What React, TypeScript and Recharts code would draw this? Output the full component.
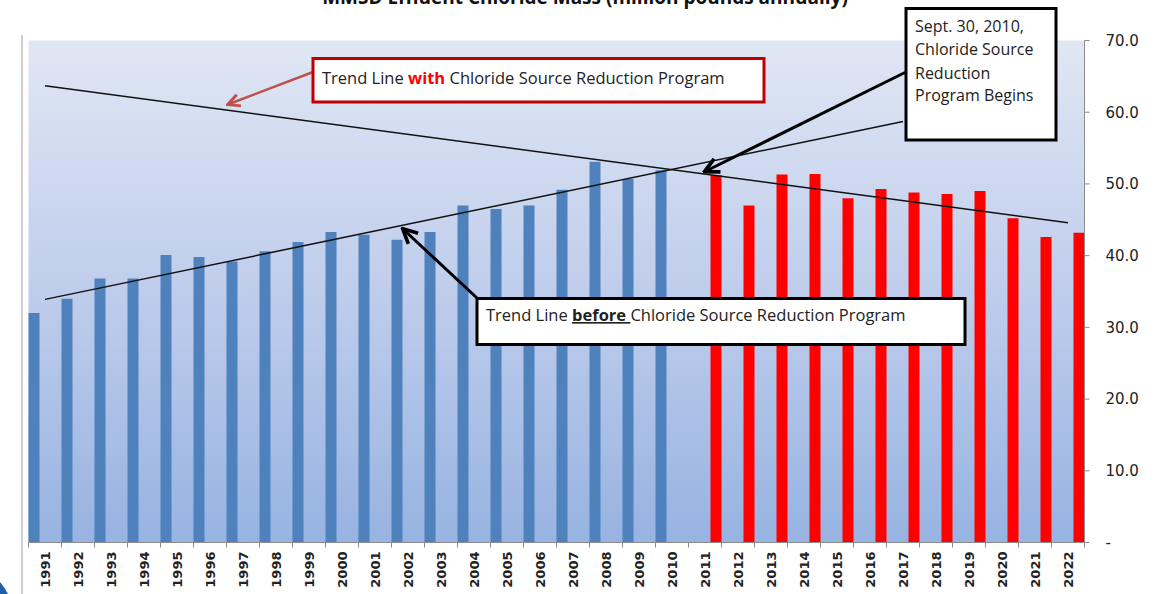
import { ComposedChart, Bar, Line, XAxis, YAxis, CartesianGrid } from 'recharts';

document.body.style.margin = '0';

// MMSD effluent chloride mass, million pounds per year
const years = [
  '1991', '1992', '1993', '1994', '1995', '1996', '1997', '1998', '1999', '2000',
  '2001', '2002', '2003', '2004', '2005', '2006', '2007', '2008', '2009', '2010',
  '2011', '2012', '2013', '2014', '2015', '2016', '2017', '2018', '2019', '2020',
  '2021', '2022',
];
const beforeProgram = [
  32.0, 34.0, 36.8, 36.8, 40.1, 39.8, 39.2, 40.6, 41.9, 43.3,
  42.9, 42.2, 43.3, 47.0, 46.5, 47.0, 49.2, 53.1, 50.7, 51.9,
];
const withProgram = [51.2, 47.0, 51.3, 51.4, 48.0, 49.3, 48.8, 48.6, 49.0, 45.2, 42.6, 43.2];

// trend line end points
const trendBeforeEnds: Record<string, number> = { '1991': 33.9, '2017': 58.7 };
const trendWithEnds: Record<string, number> = { '1991': 63.7, '2022': 44.6 };

const yTicks = [0, 10, 20, 30, 40, 50, 60, 70];

const data = years.map((year, i) => ({
  year,
  before: i < beforeProgram.length ? beforeProgram[i] : null,
  spacer: null,
  after: i >= beforeProgram.length ? withProgram[i - beforeProgram.length] : null,
  trendBefore: trendBeforeEnds[year] ?? null,
  trendWith: trendWithEnds[year] ?? null,
}));

const W = 1163;
const H = 594;
const PLOT_LEFT = 28.5;
const PLOT_RIGHT = 1084.5;
const SLOT = (PLOT_RIGHT - PLOT_LEFT) / years.length;

const YearTick = (props: any) => {
  const { x, y, payload } = props;
  const idx = years.indexOf(String(payload.value));
  const half = SLOT / 2;
  return (
    <g>
      <line x1={x - half} x2={x - half} y1={y} y2={y + 5} stroke="#8c8c8c" />
      {idx === years.length - 1 && (
        <line x1={x + half} x2={x + half} y1={y} y2={y + 5} stroke="#8c8c8c" />
      )}
      <text
        transform={`translate(${x + 4.5},${y + 9}) rotate(-90)`}
        textAnchor="end"
        fontFamily="DejaVu Sans"
        fontWeight="bold"
        fontSize={13}
        fill="#222"
      >
        {payload.value}
      </text>
    </g>
  );
};

const annoFont = "'Open Sans', sans-serif";

export default function App() {
  return (
    <div style={{ position: 'relative', width: W, height: H, overflow: 'hidden', background: '#fff' }}>
      <ComposedChart
        width={W}
        height={H}
        data={data}
        margin={{ top: 40.5, right: 8.5, left: PLOT_LEFT, bottom: 0 }}
        barCategoryGap={0}
        barGap={0}
      >
        <defs>
          <linearGradient id="plotBg" x1="0" y1="0" x2="0" y2="1">
            <stop offset="0%" stopColor="#e0e7f4" />
            <stop offset="50%" stopColor="#bfcdec" />
            <stop offset="100%" stopColor="#97b3e1" />
          </linearGradient>
        </defs>
        <CartesianGrid horizontal={false} vertical={false} fill="url(#plotBg)" stroke="none" />
        <XAxis
          dataKey="year"
          height={51.5}
          interval={0}
          tickLine={false}
          tickSize={0}
          tickMargin={0}
          axisLine={{ stroke: '#8c8c8c' }}
          tick={<YearTick />}
        />
        <YAxis
          orientation="right"
          width={70}
          domain={[0, 70]}
          ticks={yTicks}
          interval={0}
          tickSize={5}
          tickMargin={16}
          axisLine={{ stroke: '#8c8c8c' }}
          tickLine={{ stroke: '#8c8c8c' }}
          tickFormatter={(v: number) => (v === 0 ? '-' : v.toFixed(1))}
          tick={{ fill: '#222', fontSize: 15, fontFamily: 'DejaVu Sans' }}
        />
        <Bar dataKey="before" fill="#4f81bd" isAnimationActive={false} />
        <Bar dataKey="spacer" fill="none" isAnimationActive={false} />
        <Bar dataKey="after" fill="#ff0000" isAnimationActive={false} />
        <Line
          dataKey="trendBefore"
          stroke="#111"
          strokeWidth={1.5}
          dot={false}
          connectNulls
          isAnimationActive={false}
        />
        <Line
          dataKey="trendWith"
          stroke="#111"
          strokeWidth={1.5}
          dot={false}
          connectNulls
          isAnimationActive={false}
        />
      </ComposedChart>

      <svg
        width={W}
        height={H}
        style={{ position: 'absolute', left: 0, top: 0, pointerEvents: 'none' }}
      >
        <defs>
          <marker id="headRed" viewBox="0 0 10 10" refX="8" refY="5" markerWidth="6" markerHeight="6" orient="auto">
            <path d="M1,1 L9,5 L1,9" fill="none" stroke="#c0504d" strokeWidth="2" />
          </marker>
          <marker id="headBlack" viewBox="0 0 10 10" refX="8" refY="5" markerWidth="6" markerHeight="6" orient="auto">
            <path d="M1,1 L9,5 L1,9" fill="none" stroke="#000" strokeWidth="2" />
          </marker>
        </defs>

        {/* title, cut off at the top as in the source */}
        <text x={585} y={4} textAnchor="middle" fontFamily={annoFont} fontWeight="bold" fontSize={19} fill="#111">
          MMSD Effluent Chloride Mass (million pounds annually)
        </text>

        {/* left frame */}
        <line x1={22} x2={22} y1={35} y2={H} stroke="#a0a0a0" />
        <path d="M0,582 Q5,588 8,594 L0,594 Z" fill="#1f5fa8" />

        {/* "with" callout */}
        <line x1={313} y1={72} x2={229} y2={104} stroke="#c0504d" strokeWidth={2.5} markerEnd="url(#headRed)" />
        <rect x={313} y={58.5} width={451} height={43.5} fill="#fff" stroke="#c00000" strokeWidth={3} />
        <text x={322} y={83.5} fontFamily={annoFont} fontSize={16.5} fill="#222">
          Trend Line <tspan fill="#ff0000" fontWeight="bold">with</tspan> Chloride Source Reduction Program
        </text>

        {/* "before" callout */}
        <line x1={477} y1={298} x2={404} y2={230} stroke="#000" strokeWidth={3} markerEnd="url(#headBlack)" />
        <rect x={477} y={298.5} width={488} height={46} fill="#fff" stroke="#000" strokeWidth={3} />
        <text x={486} y={321} fontFamily={annoFont} fontSize={16.5} fill="#222">
          Trend Line{' '}
          <tspan fontWeight="bold" style={{ textDecoration: 'underline' }}>before </tspan>
          Chloride Source Reduction Program
        </text>

        {/* program start callout */}
        <line x1={906} y1={72} x2={706} y2={171} stroke="#000" strokeWidth={3} markerEnd="url(#headBlack)" />
        <rect x={906} y={8.5} width={150} height={131.5} fill="#fff" stroke="#000" strokeWidth={3} />
        <text fontFamily={annoFont} fontSize={16} fill="#222">
          <tspan x={915} y={31.5}>Sept. 30, 2010,</tspan>
          <tspan x={915} y={55}>Chloride Source</tspan>
          <tspan x={915} y={78.5}>Reduction</tspan>
          <tspan x={915} y={101}>Program Begins</tspan>
        </text>
      </svg>
    </div>
  );
}
